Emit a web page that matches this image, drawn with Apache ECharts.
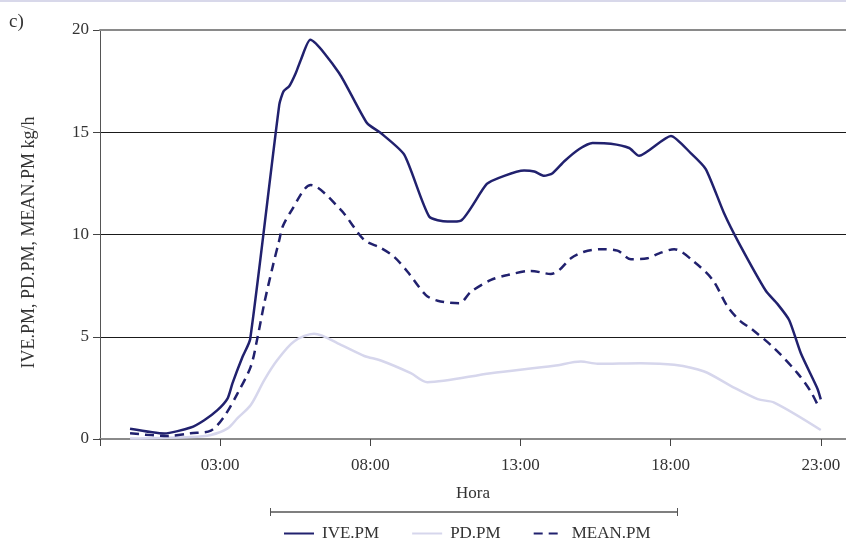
<!DOCTYPE html>
<html>
<head>
<meta charset="utf-8">
<script src="https://cdn.jsdelivr.net/npm/echarts@6/dist/echarts.min.js"></script>
<style>
  html, body { margin: 0; padding: 0; background: #fff; }
  #chart { width: 846px; height: 540px; }
</style>
</head>
<body>
<div id="chart"></div>
<script>
// hour of day (x) and kg/h (y)
const iveHours = [0, 1.14, 2.02, 2.47, 2.91, 3.25, 3.41, 3.75, 4.0, 4.97, 5.11, 5.3, 5.52, 5.69, 6.0, 6.96, 7.89, 8.35, 9.13, 9.96, 10.57, 11.02, 11.88, 12.46, 13.12, 13.46, 13.79, 14.07, 14.46, 14.96, 15.4, 16.01, 16.62, 16.95, 18.01, 18.67, 19.17, 19.78, 20.28, 21.17, 21.56, 21.95, 22.34, 22.89, 23.0];
const iveValues = [0.5, 0.27, 0.56, 0.92, 1.41, 1.99, 2.72, 4.03, 4.88, 16.35, 17.0, 17.25, 17.9, 18.55, 19.52, 17.9, 15.45, 14.96, 13.9, 10.88, 10.63, 10.68, 12.47, 12.87, 13.13, 13.08, 12.87, 13.0, 13.58, 14.18, 14.47, 14.44, 14.23, 13.85, 14.82, 13.98, 13.2, 11.04, 9.57, 7.25, 6.6, 5.81, 4.18, 2.46, 1.94];

const pdHours = [0, 2.02, 2.69, 3.25, 3.58, 4.02, 4.47, 4.91, 5.46, 6.13, 7.02, 7.8, 8.35, 9.35, 9.9, 12.01, 14.12, 15.01, 15.57, 17.0, 18.12, 19.12, 20.0, 20.9, 21.45, 23.0];
const pdValues = [0.02, 0.1, 0.2, 0.52, 1.02, 1.66, 2.88, 3.87, 4.77, 5.15, 4.6, 4.06, 3.84, 3.22, 2.78, 3.22, 3.58, 3.79, 3.68, 3.71, 3.63, 3.3, 2.6, 1.95, 1.78, 0.44];

const meanHours = [0, 1.25, 2.02, 2.69, 3.13, 3.58, 4.02, 4.25, 4.47, 4.75, 4.97, 5.08, 5.35, 6.02, 7.02, 7.8, 8.35, 8.79, 9.24, 9.85, 10.24, 10.96, 11.35, 12.02, 12.57, 13.35, 14.01, 14.29, 14.68, 15.12, 15.68, 16.23, 16.68, 17.23, 17.62, 18.12, 18.78, 19.4, 19.9, 20.34, 20.67, 21.45, 22.23, 22.67, 22.95];
const meanValues = [0.28, 0.15, 0.28, 0.41, 1.09, 2.23, 3.54, 5.0, 6.64, 8.43, 9.73, 10.38, 11.11, 12.42, 11.2, 9.73, 9.34, 8.91, 8.18, 7.04, 6.76, 6.64, 7.2, 7.78, 8.02, 8.22, 8.07, 8.26, 8.84, 9.16, 9.28, 9.21, 8.79, 8.84, 9.08, 9.28, 8.67, 7.78, 6.47, 5.74, 5.41, 4.44, 3.21, 2.31, 1.5];

const xTickHours = [3, 8, 13, 18, 23];
const yMin = 0, yMax = 20, yStep = 5;

const serif = '"Liberation Serif", "DejaVu Serif", serif';
const navy = '#21216e';

const zip = (xs, ys) => xs.map((x, i) => [x, ys[i]]);

const chart = echarts.init(document.getElementById('chart'));

chart.setOption({
  animation: false,
  title: {
    text: 'c)',
    left: 4,
    top: 8,
    textStyle: { fontFamily: serif, fontSize: 19, fontWeight: 'normal', color: '#333' }
  },
  grid: { left: 100, right: 0, top: 30, bottom: 101 },
  legend: {
    left: 283,
    top: 525,
    padding: 0,
    itemWidth: 30,
    itemHeight: 12,
    itemGap: 32,
    itemStyle: { opacity: 0 },
    textStyle: { fontFamily: serif, fontSize: 17, color: '#333', padding: [0, 0, 0, 3] },
    data: ['IVE.PM', 'PD.PM', 'MEAN.PM']
  },
  xAxis: [
    {
      type: 'value',
      min: -1,
      max: 23.84,
      name: 'Hora',
      nameLocation: 'middle',
      nameGap: 46,
      nameTextStyle: { fontFamily: serif, fontSize: 17, color: '#333' },
      axisLine: { onZero: false, lineStyle: { color: '#8a8a8a', width: 2 } },
      axisTick: { customValues: [-1].concat(xTickHours), length: 7, lineStyle: { color: '#444' } },
      axisLabel: {
        customValues: xTickHours,
        margin: 18,
        fontFamily: serif,
        fontSize: 17,
        color: '#333',
        formatter: v => String(v).padStart(2, '0') + ':00'
      },
      splitLine: { show: false }
    },
    {
      type: 'value',
      position: 'top',
      min: -1,
      max: 23.84,
      axisLine: { onZero: false, lineStyle: { color: '#8a8a8a', width: 2 } },
      axisTick: { show: false },
      axisLabel: { show: false },
      splitLine: { show: false },
      z: 5
    }
  ],
  yAxis: {
    type: 'value',
    min: yMin,
    max: yMax,
    interval: yStep,
    name: 'IVE.PM, PD.PM, MEAN.PM kg/h',
    nameLocation: 'middle',
    nameGap: 62,
    nameTextStyle: { fontFamily: serif, fontSize: 18, color: '#333', padding: [0, 16, 0, 0] },
    axisLine: { show: true, onZero: false, lineStyle: { color: '#555', width: 1 } },
    axisTick: { show: true, length: 7, lineStyle: { color: '#444' } },
    axisLabel: { margin: 11, fontFamily: serif, fontSize: 17, color: '#333' },
    splitLine: { show: true, lineStyle: { color: '#1a1a1a', width: 1 } }
  },
  graphic: [
    {
      type: 'line',
      shape: { x1: 0, y1: 1, x2: 846, y2: 1 },
      style: { stroke: '#d8d8ea', lineWidth: 2 }
    },
    {
      type: 'group',
      children: [
        { type: 'line', shape: { x1: 270, y1: 512, x2: 678, y2: 512 }, style: { stroke: '#555', lineWidth: 1.5 } },
        { type: 'line', shape: { x1: 270.5, y1: 508, x2: 270.5, y2: 516 }, style: { stroke: '#555', lineWidth: 1 } },
        { type: 'line', shape: { x1: 677.5, y1: 508, x2: 677.5, y2: 516 }, style: { stroke: '#555', lineWidth: 1 } }
      ]
    }
  ],
  series: [
    {
      name: 'PD.PM',
      type: 'line',
      data: zip(pdHours, pdValues),
      symbol: 'none',
      smooth: 0.3,
      itemStyle: { color: '#d6d6ec' },
      lineStyle: { color: '#d6d6ec', width: 2.5 },
      z: 1
    },
    {
      name: 'MEAN.PM',
      type: 'line',
      data: zip(meanHours, meanValues),
      symbol: 'none',
      smooth: 0.3,
      itemStyle: { color: navy },
      lineStyle: { color: navy, width: 2.5, type: [9, 6] },
      z: 2
    },
    {
      name: 'IVE.PM',
      type: 'line',
      data: zip(iveHours, iveValues),
      symbol: 'none',
      smooth: 0.2,
      itemStyle: { color: navy },
      lineStyle: { color: navy, width: 2.5 },
      z: 3
    }
  ]
});
</script>
</body>
</html>
